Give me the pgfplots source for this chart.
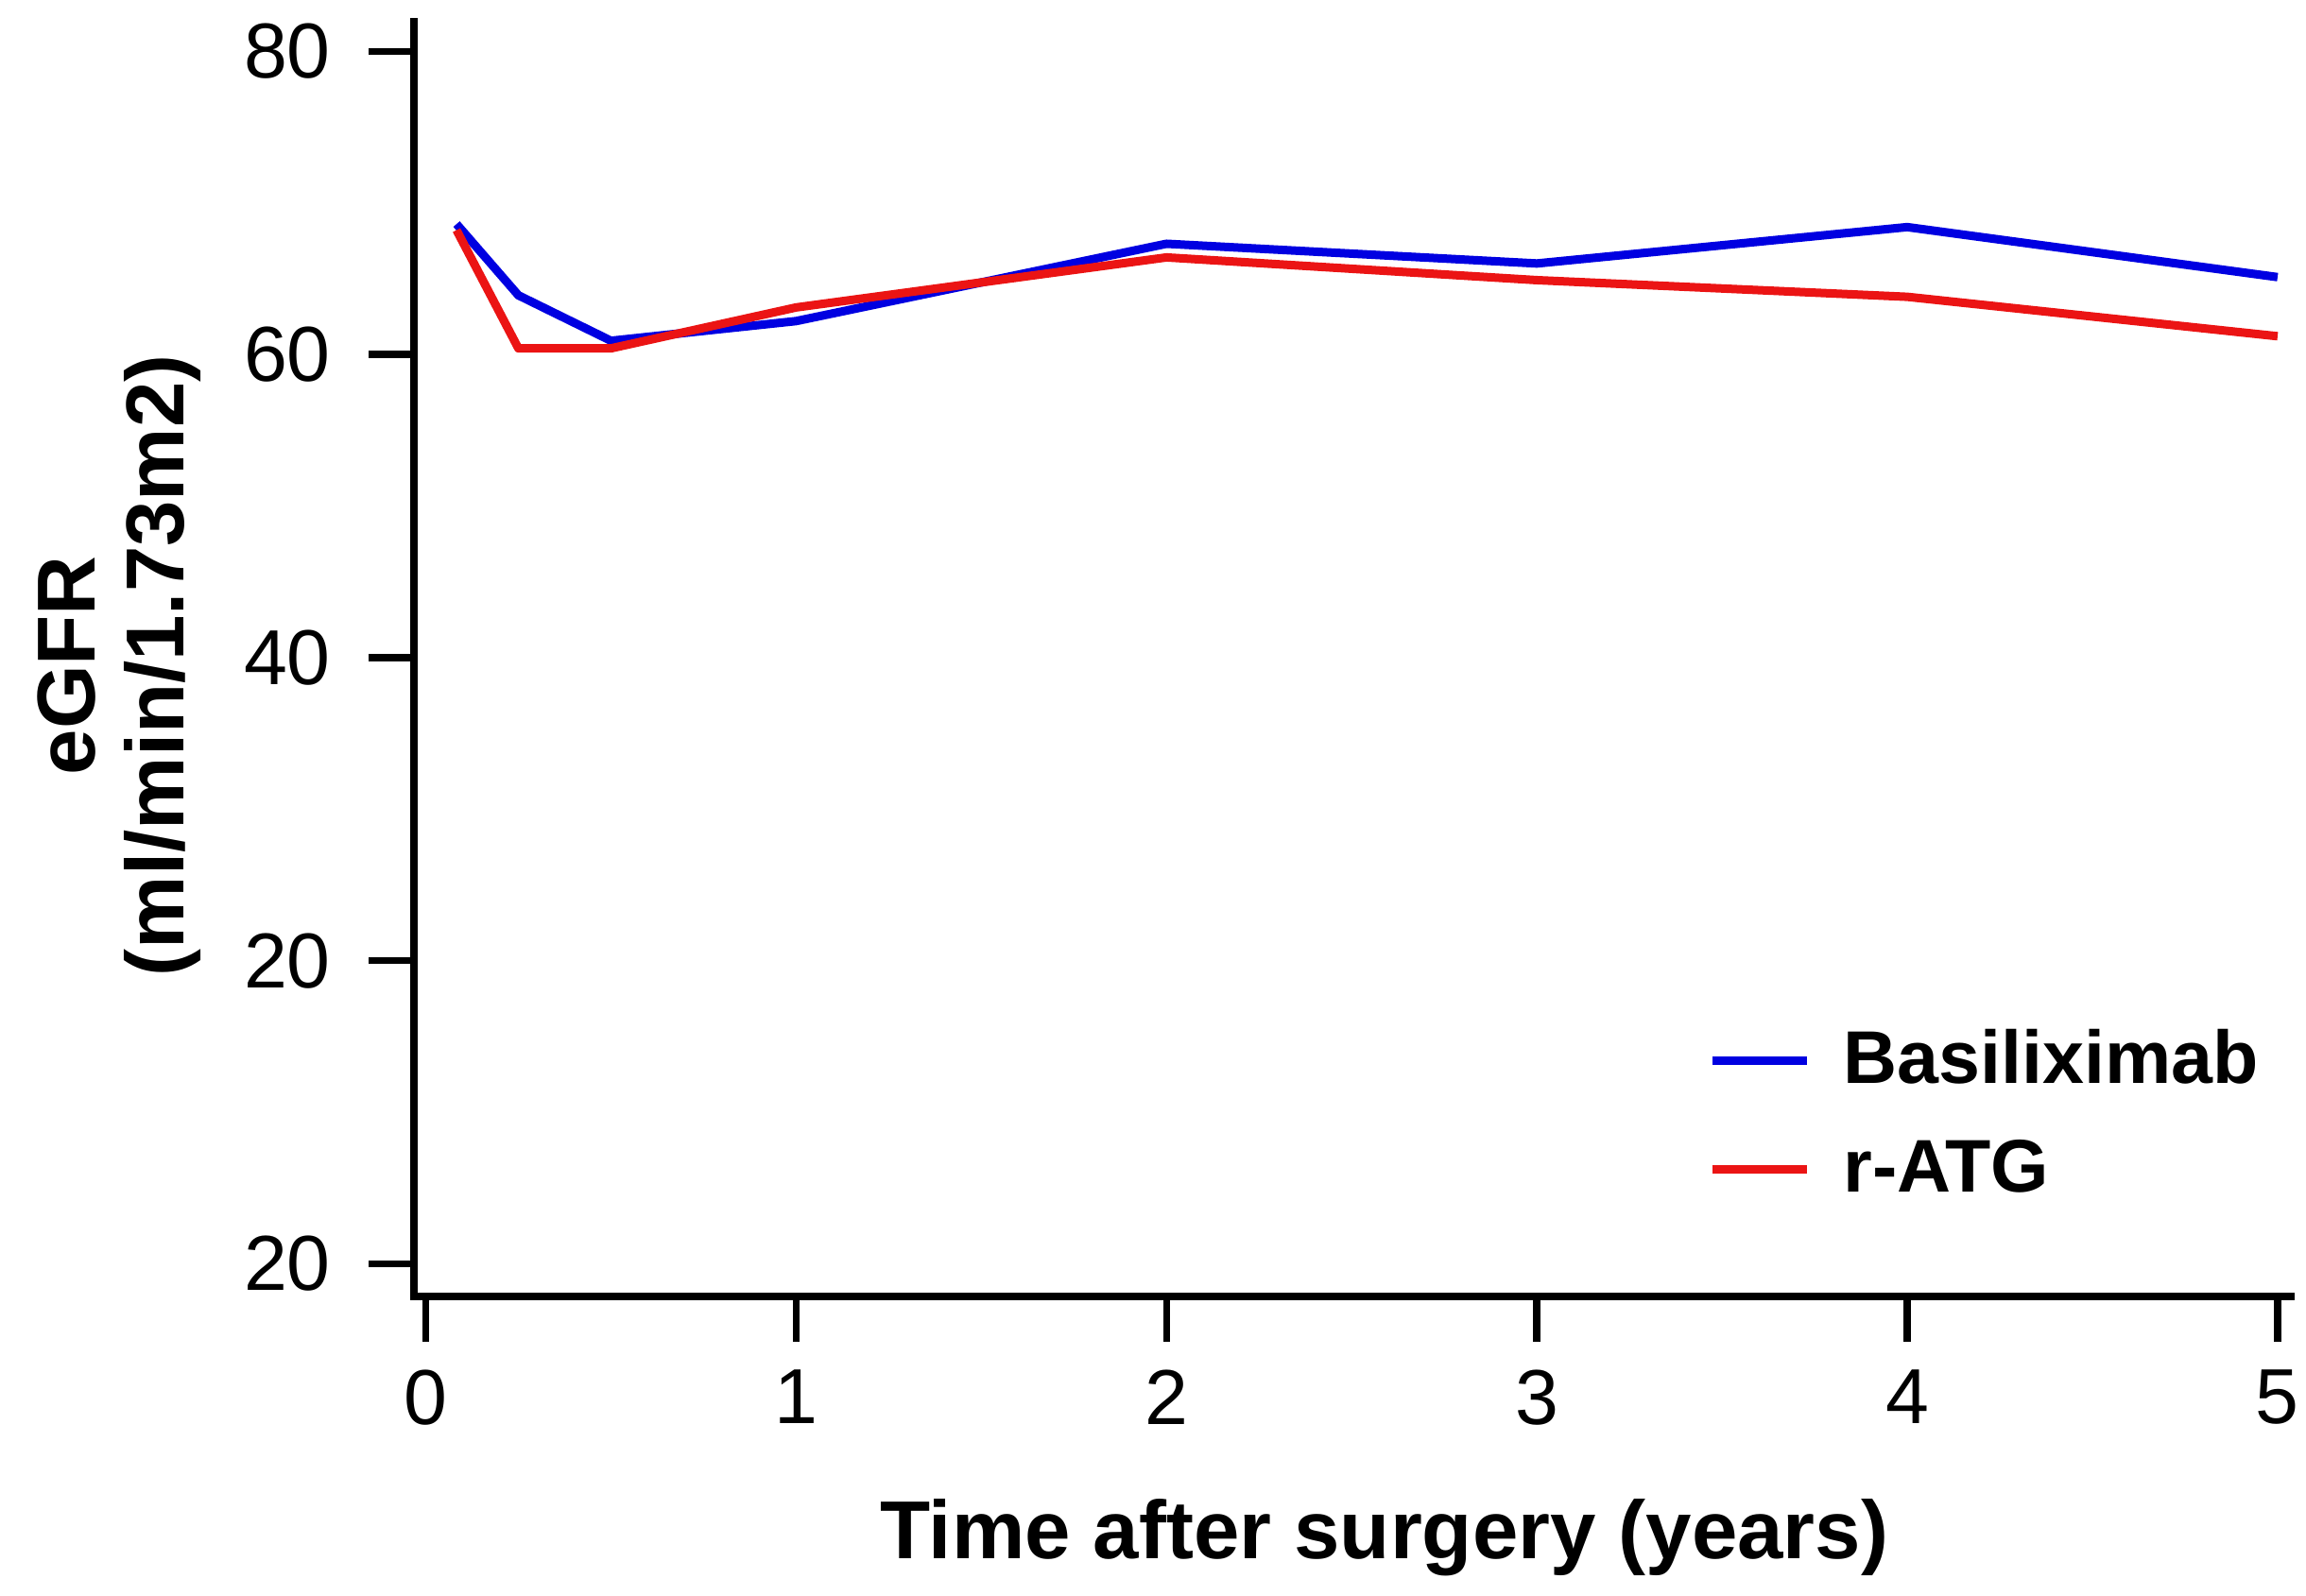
\documentclass[border=0pt]{standalone}
\usepackage{pgfplots}
\pgfplotsset{compat=1.18}
\usepackage{fontspec}
\setmainfont{Liberation Sans}

\definecolor{basblue}{RGB}{0,0,225}
\definecolor{atgred}{RGB}{235,20,20}

\begin{document}
\begin{tikzpicture}

\begin{axis}[
  name = ax,
  scale only axis,
  width = 397.2pt,
  height = 269.8pt,
  xmin = -0.032, xmax = 5.036,
  ymin = -2.15, ymax = 81.95,
  axis x line = bottom,
  axis y line = left,
  axis line style = {-, line width=1.5pt, line cap=rect},
  tick align = outside,
  major tick length = 9.6pt,
  tick style = {line width=1.5pt, black},
  xtick = {0, ..., 5},
  ytick = {0, 20, 40, 60, 80},
  yticklabels = {20, 20, 40, 60, 80},
  /pgf/number format/assume math mode = true,
  tick label style = {font=\fontsize{16.5}{18}\selectfont},
  xticklabel style = {yshift=-2.4pt},
  yticklabel style = {xshift=-4.5pt},
  xlabel = {Time after surgery (years)},
  xlabel style = {font=\bfseries\fontsize{17.4}{19}\selectfont,
    at={(axis description cs:0.517,-0.189)}, anchor=center},
  ylabel = {eGFR\\(ml/min/1.73m2)},
  ylabel style = {font=\bfseries\fontsize{17.4}{18.8}\selectfont, align=center,
    at={(axis description cs:-0.157,0.495)}, anchor=center},
  legend style = {
    at={(axis description cs:0.689,0.210)}, anchor=north west,
    draw=none, fill=none, inner sep=0pt,
    font=\bfseries\fontsize{15.8}{17}\selectfont,
    column sep=6.8pt, row sep=10.4pt,
    nodes={inner sep=0pt},
  },
  legend cell align = left,
  legend image code/.code = {\draw[#1] (0pt,0pt) -- (20pt,0pt);},
]

% Basiliximab
\addplot[basblue, line width=1.8pt, line join=round] table {
  t      egfr
  0.083  68.6
  0.25   63.9
  0.5    60.9
  1      62.2
  2      67.3
  3      66.0
  4      68.4
  5      65.1
};
\addlegendentry{Basiliximab}

% r-ATG
\addplot[atgred, line width=1.8pt, line join=round] table {
  t      egfr
  0.083  68.2
  0.25   60.4
  0.5    60.4
  1      63.1
  2      66.4
  3      64.9
  4      63.8
  5      61.2
};
\addlegendentry{r-ATG}

\end{axis}

\pgfresetboundingbox
\path[use as bounding box] ([xshift=-87.6pt,yshift=-63.4pt]ax.south west)
  rectangle ([xshift=3.2pt,yshift=4.6pt]ax.north east);

\end{tikzpicture}
\end{document}
